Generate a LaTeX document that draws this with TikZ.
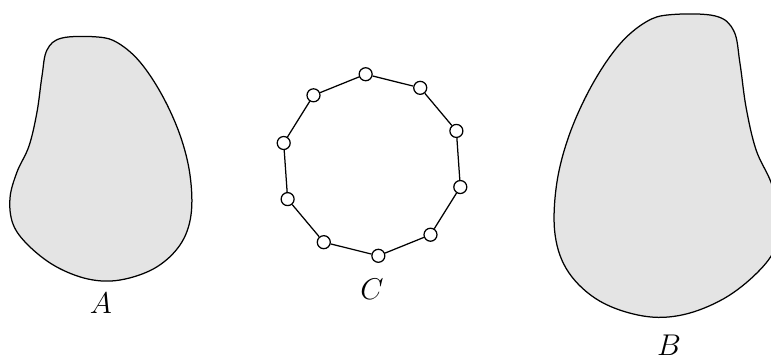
\documentclass[tikz,border=0pt]{standalone}
\usetikzlibrary{calc}
\begin{document}
\begin{tikzpicture}[x=0.4pt,y=-0.4pt,
  blob/.style={draw=black,fill=gray!21,line width=0.5pt},
  vtx/.style={circle,draw=black,fill=white,inner sep=0pt,minimum size=5.2pt,line width=0.5pt},
  edge/.style={draw=black,line width=0.5pt},
  lbl/.style={inner sep=0pt,font=\large}]
\useasboundingbox (0,0) rectangle (771,356);
\begin{scope}
\clip (0,0) rectangle (771,356);
\def\blobpath{plot[smooth cycle, tension=0.6] coordinates {(62,38) (98,37) (118,43) (140,62) (162,95) (180,135) (190,175) (191,215) (180,245) (155,268) (120,280) (88,279) (55,266) (28,245) (13,224) (10,198) (17,172) (29,146) (37,112) (42,76) (47,50)}}
\path[blob] \blobpath;
\begin{scope}[shift={(792,-31.2)},xscale=-1.24,yscale=1.24]
\path[blob] \blobpath;
\end{scope}
\node[lbl] (la) at (101,303) {$A$};
\node[lbl] (lb) at (669,345) {$B$};
\end{scope}
\coordinate (cc) at (372,165);
\foreach \i in {0,...,9}
  \node[vtx] (c\i) at ($(cc)+({-94+36*\i}:91)$) {};
\foreach \i in {0,...,9}{
  \pgfmathtruncatemacro{\j}{mod(\i+1,10)}
  \draw[edge] (c\i) -- (c\j);
}
\node[lbl] (lc) at (372,289) {$C$};
\end{tikzpicture}
\end{document}
